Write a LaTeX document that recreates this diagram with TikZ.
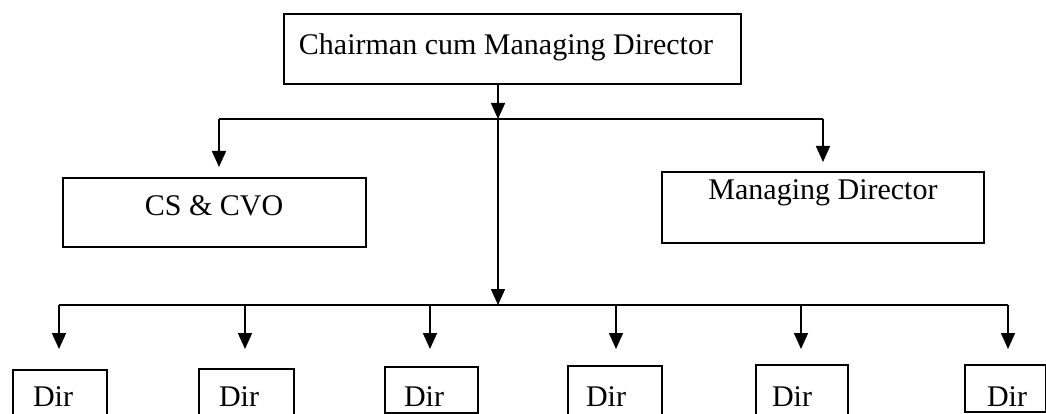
\documentclass[tikz,border=0pt]{standalone}
\usepackage{fontspec}
\setmainfont{Liberation Serif}
\usetikzlibrary{arrows.meta}
\begin{document}
\begin{tikzpicture}[x=1pt,y=-1pt,
  box/.style={draw,line width=1.6pt,inner sep=0pt,anchor=north west},
  lbl/.style={inner sep=0pt,anchor=base,font=\fontsize{30}{36}\selectfont},
  conn/.style={line width=1.7pt},
  arr/.style={line width=1.7pt,-{Triangle[width=14pt,length=16pt]}}]
\useasboundingbox (0,0) rectangle (1046,414);
\clip (0,0) rectangle (1046,414);
% boxes
\node[box,minimum width=457pt,minimum height=70pt] (top) at (283,13) {};
\node[box,minimum width=303pt,minimum height=69pt] (cs) at (62,177) {};
\node[box,minimum width=322pt,minimum height=71pt] (md) at (661,171) {};
\node[box,minimum width=94pt,minimum height=60pt] (d1) at (12,369) {};
\node[box,minimum width=95pt,minimum height=60pt] (d2) at (198,368) {};
\node[box,minimum width=93pt,minimum height=46pt] (d3) at (384,366) {};
\node[box,minimum width=94pt,minimum height=60pt] (d4) at (567,365) {};
\node[box,minimum width=92pt,minimum height=60pt] (d5) at (755,364) {};
\node[box,minimum width=81pt,minimum height=47pt] (d6) at (964,364) {};
% texts
\node[lbl] (ttop) at (506,55) {Chairman cum Managing Director};
\node[lbl] (tcs) at (214,215) {CS \& CVO};
\node[lbl] (tmd) at (823,200) {Managing Director};
\node[lbl] (t1) at (53,406) {Dir};
\node[lbl] (t2) at (239,406) {Dir};
\node[lbl] (t3) at (424,406) {Dir};
\node[lbl] (t4) at (606,406) {Dir};
\node[lbl] (t5) at (792,406) {Dir};
\node[lbl] (t6) at (1007,406) {Dir};
% junction coordinates
\coordinate (j1) at (498,119);
\coordinate (jl) at (219,119);
\coordinate (jr) at (823,119);
\coordinate (j2) at (498,305);
\coordinate (bl) at (59,305);
\coordinate (br) at (1008,305);
% connectors
\draw[arr] (top.south -| j1) -- (j1);
\draw[conn] (jl) -- (jr);
\draw[arr,shorten >=10pt] (jl) -- (jl |- cs.north);
\draw[arr,shorten >=9pt] (jr) -- (jr |- md.north);
\draw[arr] (j1) -- (j2);
\draw[conn] (bl) -- (br);
\draw[arr,shorten >=20pt] (bl) -- (bl |- d1.north);
\draw[arr,shorten >=19pt] (bl -| 245,0) -- (245,368);
\draw[arr,shorten >=17pt] (bl -| 430,0) -- (430,366);
\draw[arr,shorten >=16pt] (bl -| 616,0) -- (616,365);
\draw[arr,shorten >=15pt] (bl -| 801,0) -- (801,364);
\draw[arr,shorten >=15pt] (br) -- (br |- d6.north);
\end{tikzpicture}
\end{document}
